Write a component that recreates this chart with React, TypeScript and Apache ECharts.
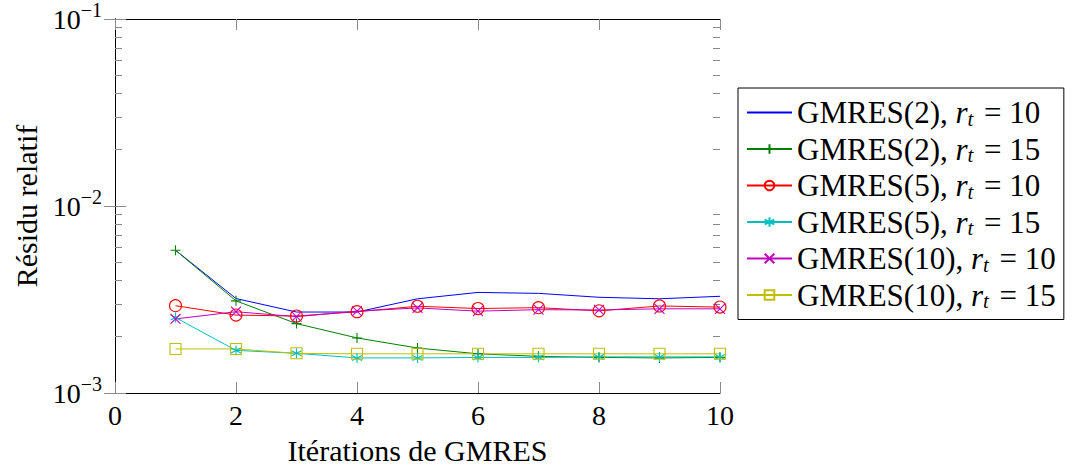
import React, { useEffect, useRef } from 'react';
import * as echarts from 'echarts';

const ITERATIONS = [1, 2, 3, 4, 5, 6, 7, 8, 9, 10];
const NAMES = [
  'GMRES(2), r_t = 10',
  'GMRES(2), r_t = 15',
  'GMRES(5), r_t = 10',
  'GMRES(5), r_t = 15',
  'GMRES(10), r_t = 10',
  'GMRES(10), r_t = 15',
];
const GMRES2_RT10 = [5.8e-3, 3.2e-3, 2.71e-3, 2.71e-3, 3.19e-3, 3.45e-3, 3.41e-3, 3.25e-3, 3.19e-3, 3.29e-3];
const GMRES2_RT15 = [5.8e-3, 3.11e-3, 2.35e-3, 1.97e-3, 1.74e-3, 1.62e-3, 1.57e-3, 1.55e-3, 1.54e-3, 1.55e-3];
const GMRES5_RT10 = [2.93e-3, 2.61e-3, 2.58e-3, 2.72e-3, 2.91e-3, 2.83e-3, 2.86e-3, 2.75e-3, 2.92e-3, 2.88e-3];
const GMRES5_RT15 = [2.53e-3, 1.69e-3, 1.63e-3, 1.54e-3, 1.54e-3, 1.55e-3, 1.55e-3, 1.56e-3, 1.56e-3, 1.56e-3];
const GMRES10_RT10 = [2.49e-3, 2.72e-3, 2.56e-3, 2.74e-3, 2.85e-3, 2.74e-3, 2.79e-3, 2.78e-3, 2.82e-3, 2.82e-3];
const GMRES10_RT15 = [1.72e-3, 1.72e-3, 1.63e-3, 1.62e-3, 1.62e-3, 1.62e-3, 1.62e-3, 1.62e-3, 1.62e-3, 1.62e-3];
const Y_MINOR_TICKS = [0.002, 0.003, 0.004, 0.005, 0.006, 0.007, 0.008, 0.009, 0.02, 0.03, 0.04, 0.05, 0.06, 0.07, 0.08, 0.09];

const FONT = 'Liberation Serif';
const FS = 28;
const FS_TEXT = 30;
const FS_LEGEND = 31;
const TICK_COLOR = '#8a8a8a';

const SERIES_STYLE = [
  { color: '#0000ff', symbol: 'none' },
  { color: '#008000', symbol: 'path://M5,0L5,10M0,5L10,5' },
  { color: '#ff0000', symbol: 'circle' },
  { color: '#00bfbf', symbol: 'path://M5,0L5,10M0.67,2.5L9.33,7.5M0.67,7.5L9.33,2.5' },
  { color: '#bf00bf', symbol: 'path://M0,0L10,10M0,10L10,0' },
  { color: '#bfbf00', symbol: 'rect' },
];
const VALUES = [GMRES2_RT10, GMRES2_RT15, GMRES5_RT10, GMRES5_RT15, GMRES10_RT10, GMRES10_RT15];

export default function App() {
  const ref = useRef<HTMLDivElement>(null);
  useEffect(() => {
    if (!ref.current) return;
    const chart = echarts.init(ref.current, null, { renderer: 'svg' });
    const baseLabel = { fontFamily: FONT, fontSize: FS, color: '#000' };
    const textLabel = { fontFamily: FONT, fontSize: FS_TEXT, color: '#000' };
    const hiddenAxisCommon = {
      axisLine: { show: false },
      axisLabel: { show: false },
      splitLine: { show: false },
    };
    const series = NAMES.map((name, k) => {
      const st = SERIES_STYLE[k];
      return {
        type: 'line',
        name,
        xAxisIndex: 0,
        yAxisIndex: 0,
        data: ITERATIONS.map((x, i) => [x, VALUES[k][i]]),
        symbol: st.symbol === 'none' ? 'circle' : st.symbol,
        symbolSize: st.symbol === 'rect' ? 11 : st.symbol === 'circle' ? 12 : 10,
        showSymbol: st.symbol !== 'none',
        lineStyle: { color: st.color, width: 1 },
        itemStyle: { color: 'none', borderColor: st.color, borderWidth: 1.1, opacity: st.symbol === 'none' ? 0 : 1 },
        emphasis: { disabled: true },
      };
    });
    chart.setOption({
      animation: false,
      backgroundColor: '#fff',
      textStyle: { fontFamily: FONT },
      grid: { left: 115, right: 352, top: 15, bottom: 78, containLabel: false },
      legend: {
        orient: 'vertical',
        left: 738,
        top: 88,
        padding: [8, 8, 8, 8],
        itemWidth: 45,
        itemHeight: 12,
        itemGap: 3.5,
        borderColor: '#000',
        borderWidth: 1,
        data: NAMES,
        formatter: (name: string) => {
          const [pre, post] = name.split('r_t');
          return `{n|${pre}}{i|r}{t|t}{n|${post}}`;
        },
        textStyle: {
          fontFamily: FONT,
          fontSize: FS_LEGEND,
          color: '#000',
          lineHeight: 32,
          rich: {
            n: { fontFamily: FONT, fontSize: FS_LEGEND, color: '#000', lineHeight: 32 },
            i: { fontFamily: FONT, fontSize: FS_LEGEND, fontStyle: 'italic', color: '#000', lineHeight: 32 },
            t: { fontFamily: FONT, fontSize: 21, fontStyle: 'italic', color: '#000', padding: [12, 3, 0, 0], lineHeight: 20 },
          },
        },
      },
      xAxis: [
        {
          type: 'value',
          min: 0,
          max: 10,
          interval: 2,
          position: 'bottom',
          name: 'Itérations de GMRES',
          nameLocation: 'middle',
          nameGap: 42,
          nameTextStyle: { ...textLabel },
          axisLine: { show: true, lineStyle: { color: '#000', width: 1 } },
          axisTick: { show: true, inside: true, length: 11, lineStyle: { color: TICK_COLOR } },
          axisLabel: { ...baseLabel, margin: 8 },
          splitLine: { show: false },
        },
        {
          type: 'value',
          min: 0,
          max: 10,
          interval: 2,
          position: 'top',
          axisLine: { show: true, lineStyle: { color: '#000', width: 1 } },
          axisTick: { show: true, inside: true, length: 11, lineStyle: { color: TICK_COLOR } },
          axisLabel: { show: false },
          splitLine: { show: false },
        },
      ],
      yAxis: [
        {
          type: 'log',
          logBase: 10,
          min: 0.001,
          max: 0.1,
          interval: 1,
          position: 'left',
          name: 'Résidu relatif',
          nameLocation: 'middle',
          nameGap: 71,
          nameTextStyle: { ...textLabel },
          axisLine: { show: true, lineStyle: { color: '#000', width: 1 } },
          axisTick: { show: true, inside: true, length: 11, lineStyle: { color: TICK_COLOR } },
          axisLabel: {
            ...baseLabel,
            margin: 13,
            formatter: (v: number) => {
              const e = Math.round(Math.log10(v));
              return `{b|10}{s|−${-e}}`;
            },
            rich: {
              b: { fontFamily: FONT, fontSize: FS, color: '#000' },
              s: { fontFamily: FONT, fontSize: 20, color: '#000', padding: [0, 0, 18, 0] },
            },
          },
          splitLine: { show: false },
        },
        {
          type: 'log',
          logBase: 10,
          min: 0.001,
          max: 0.1,
          interval: 1,
          position: 'right',
          axisLine: { show: true, lineStyle: { color: '#000', width: 1 } },
          axisTick: { show: true, inside: true, length: 11, lineStyle: { color: TICK_COLOR } },
          axisLabel: { show: false },
          splitLine: { show: false },
        },
        {
          type: 'log',
          logBase: 10,
          min: 0.001,
          max: 0.1,
          position: 'left',
          ...hiddenAxisCommon,
          axisTick: { show: true, inside: true, length: 7, customValues: Y_MINOR_TICKS, lineStyle: { color: TICK_COLOR } },
        },
        {
          type: 'log',
          logBase: 10,
          min: 0.001,
          max: 0.1,
          position: 'right',
          ...hiddenAxisCommon,
          axisTick: { show: true, inside: true, length: 7, customValues: Y_MINOR_TICKS, lineStyle: { color: TICK_COLOR } },
        },
      ],
      series,
    });
    return () => chart.dispose();
  }, []);
  return <div ref={ref} style={{ position: 'fixed', left: 0, top: 0, width: 1072, height: 471 }} />;
}
